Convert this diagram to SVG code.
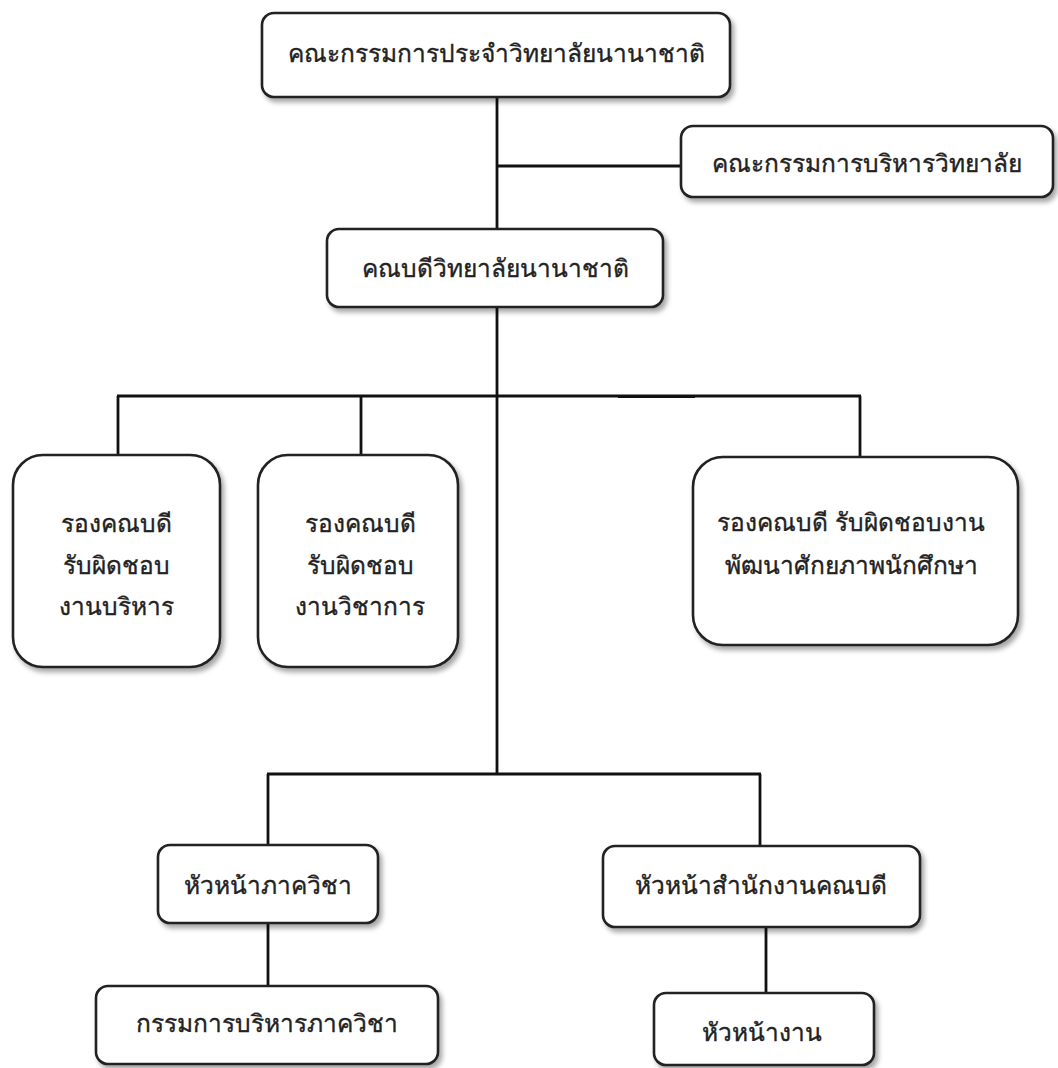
<svg xmlns="http://www.w3.org/2000/svg" width="1058" height="1068" viewBox="0 0 1058 1068">
<defs>
<filter id="sh" x="-10%" y="-10%" width="125%" height="130%">
<feDropShadow dx="3" dy="4" stdDeviation="2.5" flood-color="#000" flood-opacity="0.35"/>
</filter>
</defs>
<style>
.box{fill:#fff;stroke:#222;stroke-width:2.6;filter:url(#sh)}
.lbl{font-family:"Noto Sans","DejaVu Sans",sans-serif;font-size:24.5px;fill:#222;stroke:#222;stroke-width:0.35;text-anchor:middle;dominant-baseline:central}
.ln{stroke:#111;stroke-width:2.8;fill:none}
</style>
<rect width="1058" height="1068" fill="#fff"/>
<g id="connectors">
<line class="ln" x1="497" y1="97" x2="497" y2="229"/>
<line class="ln" x1="497" y1="166" x2="681" y2="166"/>
<line class="ln" x1="497" y1="307" x2="497" y2="774"/>
<line class="ln" x1="117" y1="396" x2="861" y2="396"/>
<line class="ln" x1="618" y1="397" x2="695" y2="397" style="stroke-width:2"/>
<line class="ln" x1="118" y1="396" x2="118" y2="455"/>
<line class="ln" x1="361" y1="396" x2="361" y2="455"/>
<line class="ln" x1="860" y1="396" x2="860" y2="457"/>
<line class="ln" x1="267" y1="774" x2="761" y2="774"/>
<line class="ln" x1="268" y1="774" x2="268" y2="845"/>
<line class="ln" x1="760" y1="774" x2="760" y2="846"/>
<line class="ln" x1="268" y1="923" x2="268" y2="986"/>
<line class="ln" x1="766" y1="927" x2="766" y2="993"/>
</g>
<g id="n-board">
<rect class="box" x="262" y="13" width="468" height="84" rx="12"/>
<text class="lbl" x="496" y="52">คณะกรรมการประจำวิทยาลัยนานาชาติ</text>
</g>
<g id="n-exec">
<rect class="box" x="681" y="126" width="372" height="71" rx="12"/>
<text class="lbl" x="867" y="162">คณะกรรมการบริหารวิทยาลัย</text>
</g>
<g id="n-dean">
<rect class="box" x="327" y="229" width="336" height="78" rx="12"/>
<text class="lbl" x="495" y="267">คณบดีวิทยาลัยนานาชาติ</text>
</g>
<g id="n-vp-admin">
<rect class="box" x="13" y="455" width="207" height="212" rx="30"/>
<text class="lbl" x="116" y="522">รองคณบดี</text>
<text class="lbl" x="116" y="564">รับผิดชอบ</text>
<text class="lbl" x="116" y="605">งานบริหาร</text>
</g>
<g id="n-vp-acad">
<rect class="box" x="258" y="455" width="200" height="212" rx="30"/>
<text class="lbl" x="360" y="522">รองคณบดี</text>
<text class="lbl" x="360" y="564">รับผิดชอบ</text>
<text class="lbl" x="360" y="605">งานวิชาการ</text>
</g>
<g id="n-vp-student">
<rect class="box" x="693" y="457" width="325" height="188" rx="30"/>
<text class="lbl" x="851" y="521">รองคณบดี รับผิดชอบงาน</text>
<text class="lbl" x="851" y="564">พัฒนาศักยภาพนักศึกษา</text>
</g>
<g id="n-dept-head">
<rect class="box" x="158" y="845" width="220" height="78" rx="12"/>
<text class="lbl" x="268" y="884">หัวหน้าภาควิชา</text>
</g>
<g id="n-dept-comm">
<rect class="box" x="96" y="986" width="342" height="78" rx="12"/>
<text class="lbl" x="267" y="1022">กรรมการบริหารภาควิชา</text>
</g>
<g id="n-office-head">
<rect class="box" x="603" y="846" width="317" height="81" rx="12"/>
<text class="lbl" x="761" y="884">หัวหน้าสำนักงานคณบดี</text>
</g>
<g id="n-work-head">
<rect class="box" x="654" y="993" width="220" height="72" rx="12"/>
<text class="lbl" x="762" y="1031">หัวหน้างาน</text>
</g>
</svg>
